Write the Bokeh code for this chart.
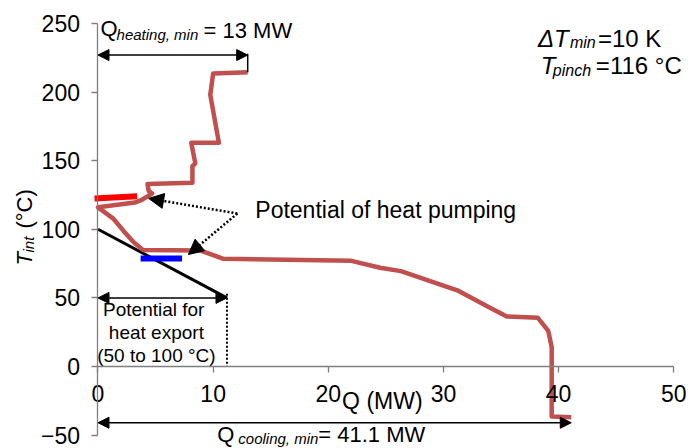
from bokeh.plotting import figure
from bokeh.models import Range1d, LinearAxis, FixedTicker, Arrow, NormalHead
from bokeh.core.properties import value
from bokeh.embed import file_html
from bokeh.resources import INLINE

# Grand composite curve: net heat flow Q (MW) against interval temperature (°C)
gcc_q = [13.0, 10.0, 9.75, 10.5, 8.1, 8.45, 8.2, 8.2, 4.3, 4.4, 4.7, 3.7, 3.2, 0.0,
         1.3, 2.2, 3.1, 3.9, 8.9, 10.9, 22.0, 24.5, 26.3, 31.2, 34.0, 35.5, 38.2,
         39.1, 39.4, 39.4, 41.1]
gcc_t = [214.5, 213.5, 198, 163, 163, 148, 146, 134, 133, 128, 126, 121, 119.5, 116,
         108, 99, 90.5, 85, 84.5, 78.5, 77, 72, 69.5, 55.5, 43, 36.5, 35.5,
         26, 14, -36.5, -37]

# Heat pump source / sink segments around the pinch
pump_sink_q = [-0.3, 3.4]
pump_sink_t = [122.5, 124.0]
pump_source_q = [3.7, 7.3]
pump_source_t = [78.7, 78.7]

# Heat export potential between 100 and 50 °C
export_q = [0.0, 11.2]
export_t = [100.0, 50.0]

# Targets
q_heating_min = 13.0
q_cooling_min = 41.1
dt_min = 10
t_pinch = 116

x_ticks = [0, 10, 20, 30, 40, 50]
y_ticks = [-50, 0, 50, 100, 150, 200, 250]

FONT = "Liberation Sans"
LIFT = -7  # baseline correction for text glyphs, in pixels

p = figure(width=688, height=448, output_backend="svg", toolbar_location=None,
           x_range=Range1d(-8.467, 51.28), y_range=Range1d(-59.77, 266.76),
           x_axis_type=None, y_axis_type=None,
           min_border_left=0, min_border_right=0, min_border_top=0, min_border_bottom=0)
p.title = None
p.outline_line_color = None
p.xgrid.visible = False
p.ygrid.visible = False
p.background_fill_color = "white"
p.border_fill_color = "white"

AXIS_COLOR = "#7f7f7f"

xaxis = LinearAxis(fixed_location=0, bounds=(0, 50), ticker=FixedTicker(ticks=x_ticks))
yaxis = LinearAxis(fixed_location=0, bounds=(-50, 250), ticker=FixedTicker(ticks=y_ticks))
for ax in (xaxis, yaxis):
    ax.axis_line_color = AXIS_COLOR
    ax.axis_line_width = 1.3
    ax.major_tick_line_color = AXIS_COLOR
    ax.major_tick_line_width = 1.3
    ax.major_tick_out = 6
    ax.major_tick_in = 0
    ax.minor_tick_line_color = None
    ax.major_label_text_font = FONT
    ax.major_label_text_font_size = "23px"
    ax.major_label_text_color = "black"
xaxis.major_label_standoff = 13
yaxis.major_label_standoff = 12
p.add_layout(xaxis, "below")
p.add_layout(yaxis, "left")


def txt(x, y, s, size, italic=False, dx=0, dy=0, align="left", angle=0.0):
    # For rotated text the baseline correction runs along screen x
    if angle:
        dx_total, dy_total = dx + LIFT, dy
    else:
        dx_total, dy_total = dx, dy + LIFT
    p.text(x=[x], y=[y], text=[s], text_font=value(FONT), text_font_size=f"{size}px",
           text_font_style="italic" if italic else "normal", text_align=align,
           text_baseline="alphabetic", x_offset=dx_total, y_offset=dy_total, angle=angle,
           text_color="black")


# Export potential line and its span
p.line(export_q, export_t, line_color="black", line_width=3)
p.line([export_q[1], export_q[1]], [53, 0], line_color="black", line_width=2, line_dash="2 2")

# Grand composite curve
p.line(gcc_q, gcc_t, line_color="#c0504d", line_width=4.5, line_join="round")

# Heat pump segments
p.line(pump_sink_q, pump_sink_t, line_color="#ff0000", line_width=6)
p.line(pump_source_q, pump_source_t, line_color="#0000ff", line_width=6)


def double_arrow(x0, x1, y):
    p.add_layout(Arrow(x_start=x0, y_start=y, x_end=x1, y_end=y,
                       start=NormalHead(size=11, fill_color="black", line_color="black"),
                       end=NormalHead(size=11, fill_color="black", line_color="black"),
                       line_color="black", line_width=1.5))


double_arrow(0, q_heating_min, 227)
p.line([q_heating_min, q_heating_min], [228, 214.5], line_color="black", line_width=1.5)
double_arrow(0, q_cooling_min, -41)
double_arrow(0, export_q[1], export_t[1])

# Heat pumping pointers
for tx, ty in [(4.4, 122.5), (7.85, 81.6)]:
    p.add_layout(Arrow(x_start=12.1, y_start=111.5, x_end=tx, y_end=ty,
                       end=NormalHead(size=15, fill_color="black", line_color="black"),
                       line_color="black", line_width=2.5, line_dash="2 2"))

# Annotations
txt(0.22, 241.3, "Q", 22)
txt(0.22, 241.3, "heating, min", 15, italic=True, dx=16, dy=6)
txt(0.22, 241.3, f"= {q_heating_min:g} MW", 22, dx=103, dy=2)

txt(38.2, 234.0, "\u0394T", 24, italic=True)
txt(38.2, 234.0, "min", 16, italic=True, dx=32, dy=4)
txt(38.2, 234.0, f"={dt_min} K", 24, dx=60)

txt(38.46, 214.3, "T", 24, italic=True)
txt(38.46, 214.3, "pinch", 16, italic=True, dx=12, dy=5)
txt(38.46, 214.3, f"={t_pinch} \u00b0C", 24, dx=55)

txt(13.66, 109.3, "Potential of heat pumping", 23)

txt(5.07, 36.4, "Potential  for", 19, align="center")
txt(5.07, 19.7, "heat export", 19, align="center")
txt(5.07, 2.9, "(50 to 100 \u00b0C)", 19, align="center")

txt(21.2, -30.6, "Q (MW)", 23)

txt(10.36, -54.8, "Q", 22)
txt(10.36, -54.8, "cooling, min", 15, italic=True, dx=21, dy=4)
txt(10.36, -54.8, f"= {q_cooling_min:g} MW", 22, dx=101)

# Vertical axis title
ang = 1.5707963
txt(-5.77, 73.6, "T", 22, italic=True, angle=ang)
txt(-5.77, 73.6, "int", 15, italic=True, angle=ang, dx=4, dy=-13)
txt(-5.77, 73.6, "(\u00b0C)", 22, angle=ang, dy=-37)

open("out.html", "w").write(file_html(p, INLINE))
